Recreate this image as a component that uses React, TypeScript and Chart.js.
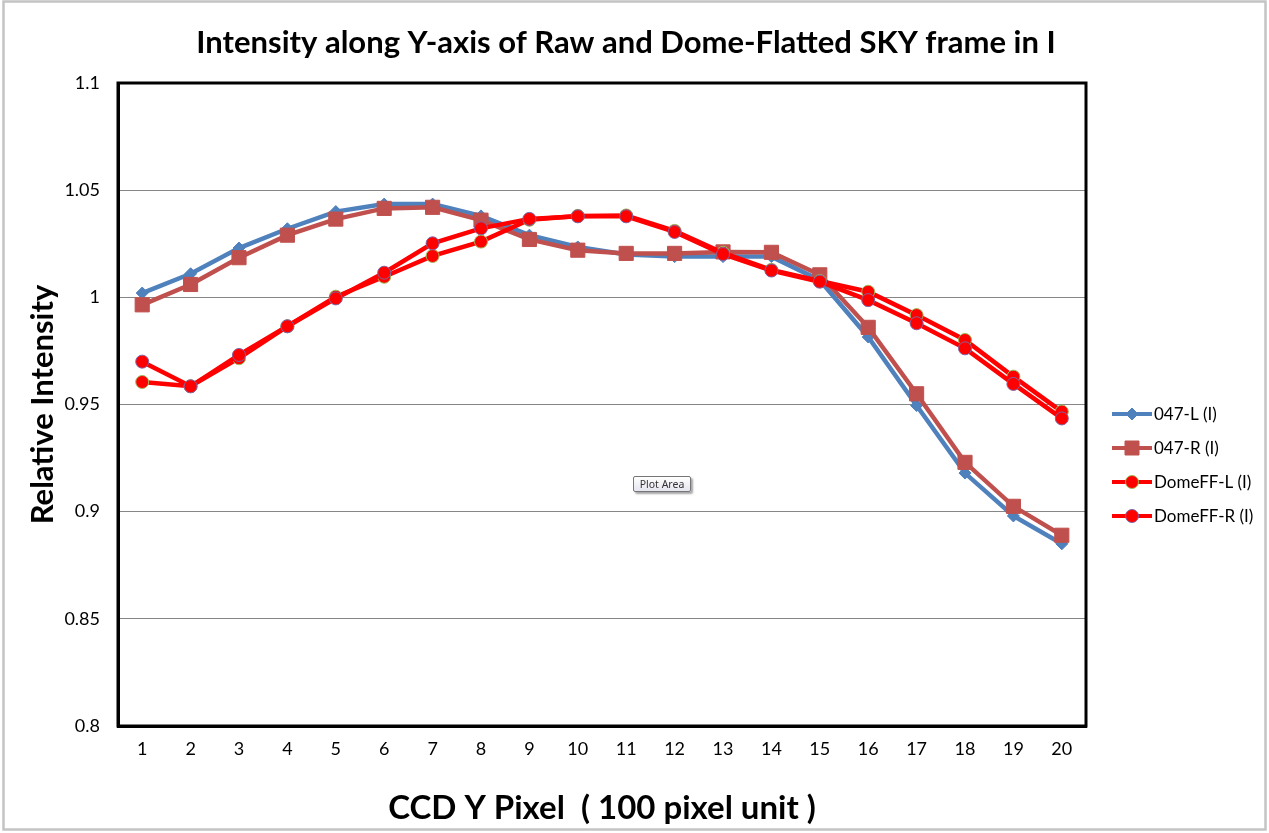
import React, { useEffect, useRef } from "react";
import { Chart, registerables } from "chart.js";

Chart.register(...registerables);

const categories = ["1", "2", "3", "4", "5", "6", "7", "8", "9", "10", "11", "12", "13", "14", "15", "16", "17", "18", "19", "20"];

const series047L = [1.002, 1.011, 1.023, 1.032, 1.040, 1.0435, 1.0435, 1.038, 1.029, 1.0235, 1.020, 1.019, 1.019, 1.019, 1.008, 0.9815, 0.9495, 0.918, 0.898, 0.885];
const series047R = [0.9965, 1.006, 1.0185, 1.029, 1.0365, 1.0415, 1.042, 1.036, 1.027, 1.022, 1.0205, 1.0205, 1.0212, 1.021, 1.0105, 0.986, 0.955, 0.923, 0.9025, 0.889];
const domeFFL = [0.9605, 0.9585, 0.9716, 0.9865, 1.0003, 1.0096, 1.0193, 1.026, 1.0362, 1.038, 1.0382, 1.031, 1.0208, 1.0128, 1.0076, 1.0026, 0.9917, 0.9801, 0.963, 0.9467];
const domeFFR = [0.970, 0.9585, 0.9731, 0.9865, 0.9995, 1.0115, 1.0252, 1.0322, 1.0366, 1.0378, 1.0378, 1.0305, 1.0202, 1.0125, 1.0073, 0.9987, 0.9879, 0.9762, 0.9596, 0.9435];

const seriesNames = ["047-L (I)", "047-R (I)", "DomeFF-L (I)", "DomeFF-R (I)"];
const yMin = 0.8;
const yMax = 1.1;
const yStep = 0.05;

const titleText = "Intensity along Y-axis of Raw and Dome-Flatted SKY frame in I";
const xTitleText = "CCD Y Pixel  ( 100 pixel unit )";
const yTitleText = "Relative Intensity";
const tooltipText = "Plot Area";

const BLUE = "#4F81BD";
const BROWN = "#C0504D";
const RED = "#FF0000";
const OLIVE = "#9BBB59";
const PURPLE = "#8064A2";

const FONT = "Lato, 'Open Sans', sans-serif";

type MarkerKind = "diamond" | "square" | "circle";

function drawMarker(ctx: CanvasRenderingContext2D, kind: MarkerKind, x: number, y: number, fill: string, stroke: string) {
  ctx.beginPath();
  if (kind === "diamond") {
    const r = 6;
    ctx.moveTo(x, y - r);
    ctx.lineTo(x + r, y);
    ctx.lineTo(x, y + r);
    ctx.lineTo(x - r, y);
    ctx.closePath();
  } else if (kind === "square") {
    const h = 7;
    ctx.rect(x - h, y - h, 2 * h, 2 * h);
  } else {
    ctx.arc(x, y, 6.5, 0, Math.PI * 2);
  }
  ctx.fillStyle = fill;
  ctx.fill();
  ctx.lineWidth = 1;
  ctx.strokeStyle = stroke;
  ctx.stroke();
}

const legendStyles: { color: string; marker: MarkerKind; fill: string; stroke: string; width: number }[] = [
  { color: BLUE, marker: "diamond", fill: BLUE, stroke: BLUE, width: 4 },
  { color: BROWN, marker: "square", fill: BROWN, stroke: BROWN, width: 4 },
  { color: RED, marker: "circle", fill: RED, stroke: OLIVE, width: 4 },
  { color: RED, marker: "circle", fill: RED, stroke: PURPLE, width: 4 },
];

const decorPlugin = {
  id: "decor",
  beforeDraw(chart: any) {
    const ctx: CanvasRenderingContext2D = chart.ctx;
    ctx.save();
    ctx.fillStyle = "#ffffff";
    ctx.fillRect(0, 0, chart.width, chart.height);
    ctx.strokeStyle = "#c4c4c4";
    ctx.lineWidth = 2.5;
    ctx.strokeRect(3.5, 1.5, 1262, 828);
    ctx.restore();
  },
  afterDraw(chart: any) {
    const ctx: CanvasRenderingContext2D = chart.ctx;
    const a = chart.chartArea;
    ctx.save();
    ctx.strokeStyle = "#000000";
    ctx.lineWidth = 3;
    ctx.strokeRect(a.left, a.top, a.right - a.left, a.bottom - a.top);

    ctx.fillStyle = "#000000";
    ctx.textAlign = "center";
    ctx.textBaseline = "middle";
    ctx.font = `bold 31px ${FONT}`;
    ctx.fillText(titleText, 626, 43);

    const legendX = 1112;
    const legendYs = [414, 448, 482, 516];
    seriesNames.forEach((name, i) => {
      const st = legendStyles[i];
      const y = legendYs[i];
      ctx.beginPath();
      ctx.strokeStyle = st.color;
      ctx.lineWidth = st.width;
      ctx.moveTo(legendX, y);
      ctx.lineTo(legendX + 40, y);
      ctx.stroke();
      drawMarker(ctx, st.marker, legendX + 20, y, st.fill, st.stroke);
      ctx.fillStyle = "#000000";
      ctx.textAlign = "left";
      ctx.textBaseline = "middle";
      ctx.font = `17px ${FONT}`;
      ctx.fillText(name, legendX + 42, y + 1);
    });
    ctx.restore();
  },
};

export default function App() {
  const canvasRef = useRef<HTMLCanvasElement | null>(null);

  useEffect(() => {
    document.body.style.margin = "0";
    const canvas = canvasRef.current;
    if (!canvas) return;
    const chart = new Chart(canvas, {
      type: "line",
      data: {
        labels: categories,
        datasets: [
          {
            label: seriesNames[0],
            data: series047L,
            borderColor: BLUE,
            backgroundColor: BLUE,
            borderWidth: 4.5,
            pointStyle: "rectRot",
            pointRadius: 6,
            pointBackgroundColor: BLUE,
            pointBorderColor: BLUE,
            pointBorderWidth: 1,
            tension: 0,
            order: 3,
          },
          {
            label: seriesNames[1],
            data: series047R,
            borderColor: BROWN,
            backgroundColor: BROWN,
            borderWidth: 4.5,
            pointStyle: "rect",
            pointRadius: 10,
            pointBackgroundColor: BROWN,
            pointBorderColor: BROWN,
            pointBorderWidth: 1,
            tension: 0,
            order: 2,
          },
          {
            label: seriesNames[2],
            data: domeFFL,
            borderColor: RED,
            backgroundColor: RED,
            borderWidth: 4.5,
            pointStyle: "circle",
            pointRadius: 6.5,
            pointBackgroundColor: RED,
            pointBorderColor: OLIVE,
            pointBorderWidth: 1,
            tension: 0,
            order: 1,
          },
          {
            label: seriesNames[3],
            data: domeFFR,
            borderColor: RED,
            backgroundColor: RED,
            borderWidth: 4.5,
            pointStyle: "circle",
            pointRadius: 6.5,
            pointBackgroundColor: RED,
            pointBorderColor: PURPLE,
            pointBorderWidth: 1,
            tension: 0,
            order: 0,
          },
        ],
      },
      options: {
        animation: false,
        responsive: false,
        devicePixelRatio: 1,
        layout: { padding: { left: 0, right: 183, top: 83, bottom: 0 } },
        plugins: {
          legend: { display: false },
          title: { display: false },
          tooltip: { enabled: false },
        },
        events: [],
        scales: {
          x: {
            type: "category",
            offset: true,
            grid: { display: false, drawTicks: false },
            border: { display: true, color: "#000000", width: 3 },
            ticks: {
              color: "#000000",
              font: { family: FONT, size: 18 },
              padding: 12,
              maxRotation: 0,
              autoSkip: false,
            },
            title: {
              display: true,
              text: xTitleText,
              color: "#000000",
              font: { family: FONT, size: 33, weight: "bold" },
              padding: { top: 0, bottom: 5 },
            },
            afterFit(scale: any) {
              scale.height = 107;
            },
          },
          y: {
            type: "linear",
            min: yMin,
            max: yMax,
            grid: { color: "#868686", lineWidth: 1, drawTicks: false },
            border: { display: true, color: "#000000", width: 3 },
            ticks: {
              stepSize: yStep,
              color: "#000000",
              font: { family: FONT, size: 18 },
              padding: 18,
              callback: (v: any) => String(parseFloat(Number(v).toFixed(2))),
            },
            title: {
              display: true,
              text: yTitleText,
              color: "#000000",
              font: { family: FONT, size: 31, weight: "bold" },
              padding: { top: 24, bottom: 0 },
            },
            afterFit(scale: any) {
              scale.width = 118;
            },
          },
        },
      },
      plugins: [decorPlugin],
    } as any);
    return () => chart.destroy();
  }, []);

  return (
    <div style={{ position: "relative", width: 1269, height: 833 }}>
      <canvas ref={canvasRef} width={1269} height={833} style={{ display: "block", width: 1269, height: 833 }} />
      <div
        style={{
          position: "absolute",
          left: 633,
          top: 476,
          width: 58,
          height: 16,
          boxSizing: "border-box",
          border: "1px solid #767676",
          borderRadius: 2,
          background: "linear-gradient(#ffffff, #e4e5ef)",
          boxShadow: "2px 2px 2px rgba(0,0,0,0.35)",
          fontFamily: "'Noto Sans', sans-serif",
          fontSize: 10.5,
          lineHeight: "14px",
          textAlign: "center",
          color: "#333",
        }}
      >
        {tooltipText}
      </div>
    </div>
  );
}
